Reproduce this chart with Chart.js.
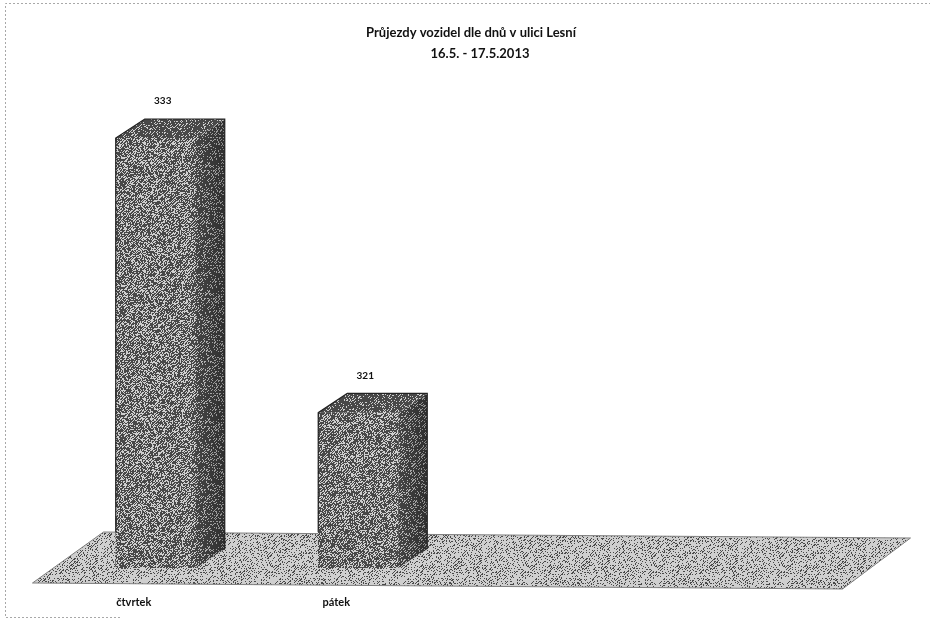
<!DOCTYPE html>
<html>
<head>
<meta charset="utf-8">
<title>Průjezdy vozidel</title>
<script src="https://cdn.jsdelivr.net/npm/chart.js@4"></script>
<style>
    html, body { margin: 0; padding: 0; background: #fff; }
    #wrap { position: relative; width: 937px; height: 619px; }
</style>
</head>
<body>
<div id="wrap"><canvas id="trafficChart"></canvas></div>
<script>
const categories = ['čtvrtek', 'pátek', '', ''];
const passages = [333, 321, null, null];
const titleLines = ['Průjezdy vozidel dle dnů v ulici Lesní', '16.5. - 17.5.2013'];
const axisMin = 314.2;
const axisMax = 333;

const FONT = 'Lato, "Open Sans", sans-serif';
const DEPTH_X = 29;
const DEPTH_Y = 19;

// stipple tile so the flat fills look like the scanned print
function stipple(density) {
    const size = 128;
    const tile = document.createElement('canvas');
    tile.width = tile.height = size;
    const c = tile.getContext('2d');
    c.fillStyle = '#cfcfcf';
    c.fillRect(0, 0, size, size);
    c.fillStyle = '#484848';
    for (let y = 0; y < size; y++) {
        for (let x = 0; x < size; x++) {
            let h = Math.imul(x + 1, 73856093) ^ Math.imul(y + 1, 19349663);
            h = Math.imul(h ^ (h >>> 13), 1274126177);
            const noise = ((h ^ (h >>> 16)) >>> 0) % 1000 / 1000;
            const diag = ((x + y) % 3) / 3;
            if (noise * 0.6 + diag * 0.4 < density) c.fillRect(x, y, 1, 1);
        }
    }
    return c.createPattern(tile, 'repeat');
}

function poly(ctx, pts, fill, stroke) {
    ctx.beginPath();
    pts.forEach((p, i) => i ? ctx.lineTo(p[0], p[1]) : ctx.moveTo(p[0], p[1]));
    ctx.closePath();
    if (fill) { ctx.fillStyle = fill; ctx.fill(); }
    if (stroke) { ctx.strokeStyle = stroke; ctx.lineWidth = 1; ctx.stroke(); }
}

const floorPlugin = {
    id: 'floor',
    beforeDatasetsDraw(chart) {
        const ctx = chart.ctx, a = chart.chartArea;
        ctx.save();
        poly(ctx, [
            [a.left + 49, a.bottom - 36],
            [a.right + 46, a.bottom - 30],
            [a.right - 22, a.bottom + 21],
            [a.left - 22, a.bottom + 15]
        ], stipple(0.27), '#808080');
        ctx.restore();
    }
};

const boxPlugin = {
    id: 'box',
    afterDatasetsDraw(chart) {
        const ctx = chart.ctx;
        const sideFill = stipple(0.6), topFill = stipple(0.62);
        ctx.save();
        chart.getDatasetMeta(0).data.forEach((bar, i) => {
            if (passages[i] == null) return;
            const l = bar.x - bar.width / 2, r = bar.x + bar.width / 2;
            const t = bar.y, b = bar.base;
            const side = [[r, t], [r + DEPTH_X, t - DEPTH_Y], [r + DEPTH_X, b - DEPTH_Y], [r, b]];
            poly(ctx, side, sideFill);
            const shade = ctx.createLinearGradient(r, 0, r + DEPTH_X, 0);
            shade.addColorStop(0, 'rgba(0,0,0,0.05)');
            shade.addColorStop(1, 'rgba(0,0,0,0.35)');
            poly(ctx, side, shade);
            poly(ctx, [[l, t], [l + DEPTH_X, t - DEPTH_Y], [r + DEPTH_X, t - DEPTH_Y], [r, t]], topFill);

            ctx.strokeStyle = '#222';
            ctx.lineWidth = 1.2;
            ctx.beginPath();
            ctx.moveTo(l, b - 36);
            ctx.lineTo(l, t);
            ctx.lineTo(l + DEPTH_X, t - DEPTH_Y);
            ctx.lineTo(r + DEPTH_X, t - DEPTH_Y);
            ctx.lineTo(r + DEPTH_X, b - DEPTH_Y);
            ctx.stroke();

            ctx.fillStyle = '#111';
            ctx.font = 'bold 10px ' + FONT;
            ctx.textAlign = 'center';
            ctx.textBaseline = 'middle';
            ctx.fillText(passages[i], bar.x + 7, t - 37);
        });
        ctx.restore();
    }
};

const sheetPlugin = {
    id: 'sheet',
    beforeDraw(chart) {
        const ctx = chart.ctx;
        ctx.save();
        // faint edge of the scanned page
        ctx.strokeStyle = '#a8a8a8';
        ctx.lineWidth = 1;
        ctx.setLineDash([2, 2]);
        ctx.beginPath();
        ctx.moveTo(120, 617.5);
        ctx.lineTo(5.5, 617.5);
        ctx.lineTo(5.5, 3.5);
        ctx.lineTo(930, 3.5);
        ctx.stroke();
        ctx.setLineDash([]);
        ctx.fillStyle = '#111';
        ctx.textAlign = 'center';
        ctx.textBaseline = 'middle';
        ctx.font = 'bold 13px ' + FONT;
        ctx.fillText(titleLines[0], 471, 33);
        ctx.fillText(titleLines[1], 480, 54);
        ctx.restore();
    }
};

new Chart(document.getElementById('trafficChart'), {
    type: 'bar',
    data: {
        labels: categories,
        datasets: [{
            label: 'Průjezdy',
            data: passages,
            base: axisMin,
            backgroundColor: stipple(0.5),
            barThickness: 80
        }]
    },
    plugins: [sheetPlugin, floorPlugin, boxPlugin],
    options: {
        responsive: true,
        maintainAspectRatio: false,
        animation: false,
        devicePixelRatio: 1,
        layout: { padding: { left: 54.5, right: 72.5, top: 138, bottom: 10 } },
        plugins: {
            legend: { display: false },
            title: { display: false },
            tooltip: { enabled: false }
        },
        scales: {
            x: {
                grid: { display: false },
                border: { display: false },
                afterFit(scale) { scale.height = 41; },
                ticks: {
                    color: '#111',
                    font: { family: FONT, size: 11, weight: 'bold' },
                    padding: 20,
                    labelOffset: -22,
                    maxRotation: 0,
                    autoSkip: false
                }
            },
            y: {
                display: false,
                min: axisMin,
                max: axisMax
            }
        }
    }
});
</script>
</body>
</html>
